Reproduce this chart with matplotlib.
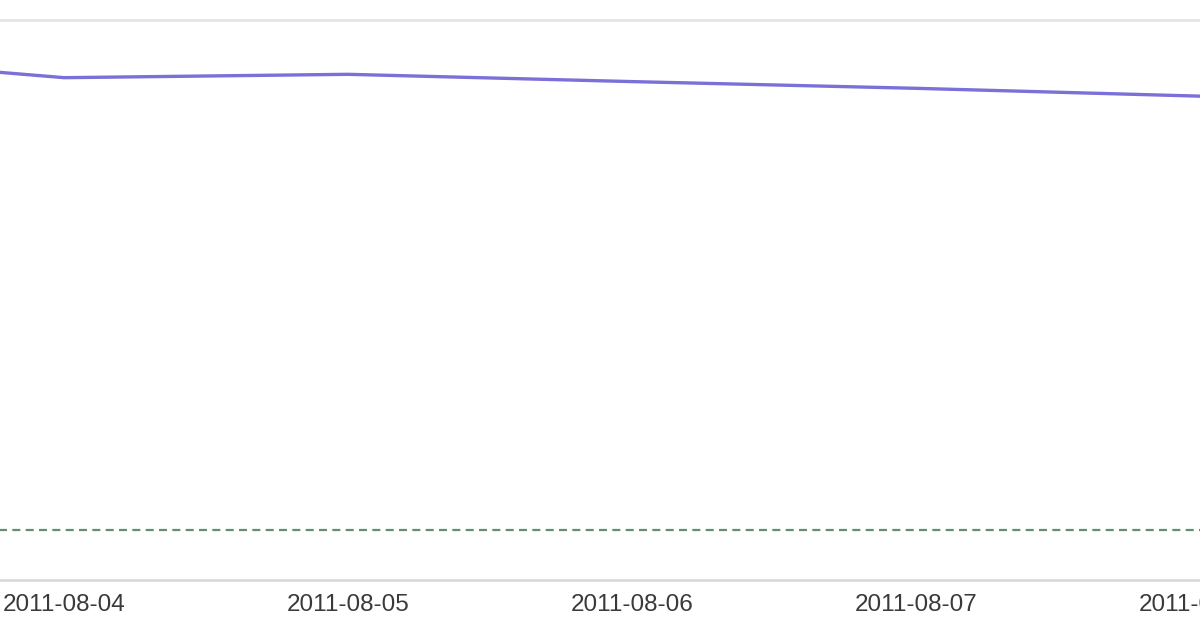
import matplotlib
matplotlib.use("Agg")
import matplotlib.pyplot as plt
import matplotlib.dates as mdates
import numpy as np
from datetime import datetime

# ---- data ----
dates = ["2011-08-03", "2011-08-04", "2011-08-05", "2011-08-06", "2011-08-07", "2011-08-08"]
visits = [93.9, 89.7, 90.3, 89.0, 87.8, 86.4]
baseline = [8.9, 8.9, 8.9, 8.9, 8.9, 8.9]
tick_labels = ["2011-08-04", "2011-08-05", "2011-08-06", "2011-08-07", "2011-08-08"]

x = mdates.date2num([datetime.strptime(d, "%Y-%m-%d") for d in dates])
ticks = mdates.date2num([datetime.strptime(d, "%Y-%m-%d") for d in tick_labels])

W, H = 1200, 628
fig = plt.figure(figsize=(W / 100, H / 100), dpi=100)
fig.patch.set_facecolor("white")
ax = fig.add_axes([0, (H - 580) / H, 1, 580 / H])

ax.plot(x, visits, color="#7a70d8", lw=2.4, solid_joinstyle="round", zorder=3)
ax.plot(x, baseline, color="#62906e", lw=1.6, linestyle=(0, (3.6, 2.4)), zorder=2)

# axis ranges (day spacing ~287.5 px, first tick at ~65 px)
px_day = 287.5
t0 = ticks[0]
ax.set_xlim(t0 - 65 / px_day, t0 + (1200 - 65) / px_day)
ax.set_ylim(0, 100 * 580 / 560)

# top gridline
ax.set_yticks([100])
ax.yaxis.grid(True, color="#e2e2e2", lw=1.8)
ax.tick_params(axis="y", left=False, labelleft=False)

ax.set_xticks(ticks)
ax.set_xticklabels(tick_labels, family=["Liberation Sans", "DejaVu Sans"],
                   fontsize=17.5, color="#3a3a3a")
ax.tick_params(axis="x", length=0, pad=10)

for s in ["top", "left", "right"]:
    ax.spines[s].set_visible(False)
ax.spines["bottom"].set_color("#d6d6d6")
ax.spines["bottom"].set_linewidth(1.8)

fig.savefig("out.png", dpi=100, facecolor="white")
